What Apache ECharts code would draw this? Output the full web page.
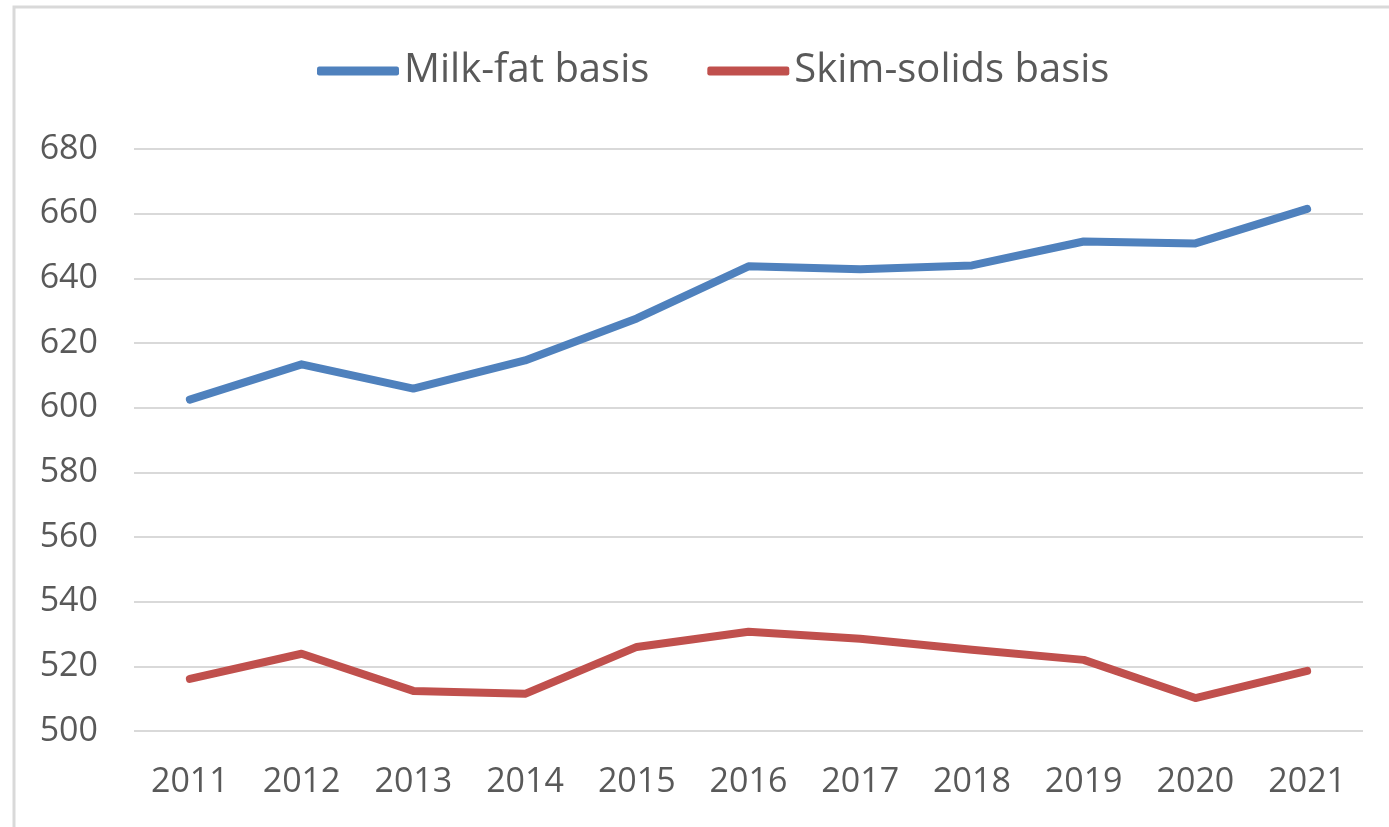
<!DOCTYPE html>
<html>
<head>
<meta charset="utf-8">
<script src="https://cdn.jsdelivr.net/npm/echarts@6/dist/echarts.min.js"></script>
<style>
  html, body { margin: 0; padding: 0; background: #fff; }
  #chart { width: 1389px; height: 827px; }
</style>
</head>
<body>
<div id="chart"></div>
<script>
// years on the x axis
const years = ['2011', '2012', '2013', '2014', '2015', '2016', '2017', '2018', '2019', '2020', '2021']
// values
const milkFat = [602.5, 613.4, 605.9, 614.6, 627.6, 643.7, 642.8, 644.0, 651.4, 650.8, 661.5]
const skimSolids = [516.1, 523.9, 512.4, 511.5, 526.0, 530.7, 528.5, 525.1, 522.0, 510.2, 518.6]

const fontFamily = '"Open Sans", "Noto Sans", sans-serif'
const textColor = '#595959'

const chart = echarts.init(document.getElementById('chart'), null, { renderer: 'canvas' })

chart.setOption({
  animation: false,
  color: ['#4F81BD', '#C0504D'],
  graphic: [{
    type: 'rect',
    shape: { x: 14, y: 7, width: 1500, height: 1000 },
    style: { fill: 'none', stroke: '#D9D9D9', lineWidth: 3 },
    silent: true
  }],
  legend: {
    left: 312,
    top: 46,
    itemWidth: 82,
    itemHeight: 9,
    itemGap: 58,
    icon: 'roundRect',
    textStyle: {
      color: textColor,
      fontSize: 40,
      fontFamily: fontFamily
    },
    data: ['Milk-fat basis', 'Skim-solids basis']
  },
  grid: {
    left: 134,
    right: 26,
    top: 149,
    bottom: 96,
    containLabel: false
  },
  xAxis: {
    type: 'category',
    data: years,
    boundaryGap: true,
    axisLine: { show: false },
    axisTick: { show: false },
    axisLabel: {
      color: textColor,
      fontSize: 34,
      fontFamily: fontFamily,
      margin: 34
    }
  },
  yAxis: {
    type: 'value',
    min: 500,
    max: 680,
    interval: 20,
    axisLine: { show: false },
    axisTick: { show: false },
    splitLine: { lineStyle: { color: '#D9D9D9', width: 2 } },
    axisLabel: {
      color: textColor,
      fontSize: 34,
      fontFamily: fontFamily,
      margin: 36
    }
  },
  series: [{
    name: 'Milk-fat basis',
    type: 'line',
    data: milkFat,
    showSymbol: false,
    symbol: 'none',
    lineStyle: { width: 8, cap: 'round', join: 'round' }
  }, {
    name: 'Skim-solids basis',
    type: 'line',
    data: skimSolids,
    showSymbol: false,
    symbol: 'none',
    lineStyle: { width: 8, cap: 'round', join: 'round' }
  }]
})
</script>
</body>
</html>
